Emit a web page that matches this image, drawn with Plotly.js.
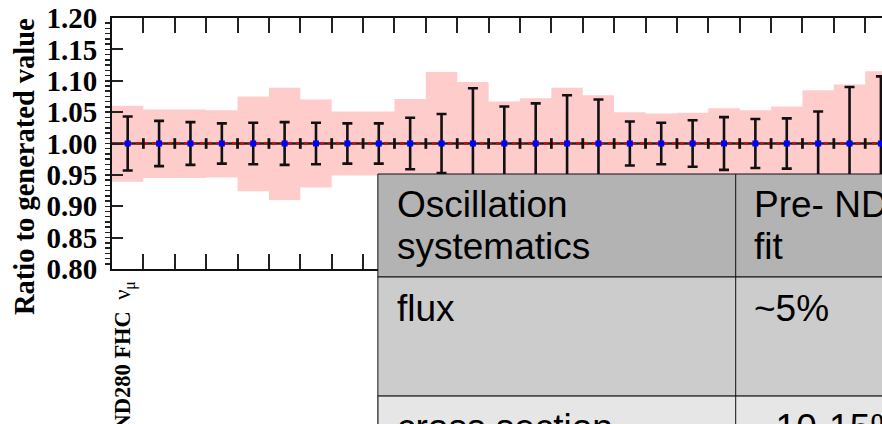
<!DOCTYPE html>
<html>
<head>
<meta charset="utf-8">
<script src="https://cdn.plot.ly/plotly-3.0.1.min.js"></script>
<style>
html,body{margin:0;padding:0;overflow:hidden;background:#fff;width:882px;height:424px;}
#chart{width:940px;height:424px;}
</style>
</head>
<body>
<div id="chart"></div>
<script>
// ---- data ----
const bins = [1,2,3,4,5,6,7,8,9,10,11,12,13,14,15,16,17,18,19,20,21,22,23,24,25];
const ratio = [1,1,1,1,1,1,1,1,1,1,1,1,1,1,1,1,1,1,1,1,1,1,1,1,1];
const ratioErr = [0.043,0.036,0.034,0.032,0.033,0.034,0.033,0.032,0.032,0.041,0.047,0.088,0.059,0.064,0.077,0.070,0.035,0.033,0.037,0.042,0.039,0.040,0.051,0.090,0.107];
const bandUpper = [1.060,1.054,1.054,1.053,1.075,1.089,1.070,1.051,1.051,1.071,1.114,1.098,1.067,1.072,1.089,1.077,1.050,1.048,1.049,1.056,1.053,1.059,1.085,1.094,1.115];
const bandLower = [0.939,0.945,0.945,0.946,0.924,0.910,0.930,0.949,0.949,0.929,0.886,0.902,0.933,0.928,0.911,0.923,0.948,0.948,0.948,0.944,0.947,0.941,0.915,0.906,0.885];
const edgeX = [1.5,2.5,3.5,4.5,5.5,6.5,7.5,8.5,9.5,10.5,11.5,12.5,13.5,14.5,15.5,16.5,17.5,18.5,19.5,20.5,21.5,22.5,23.5,24.5];
const edgeVal = [1,1,1,1,1,1,1,1,1,1,1,1,1,1,1,1,1,1,1,1,1,1,1,1];
const edgeErr = 0.0085;
const yTitle = "Ratio to generated value";
const sampleLabel = "<b>ND280 FHC</b>  ν<sub>μ</sub>";
const tableHeader = [["Oscillation","systematics"],["Pre- ND","fit"]];
const tableRows = [["flux","~5%"],["cross section","~10-15%"]];

// step arrays built from the bin values
const stepX = bins.map(b => b - 0.5).concat([bins[bins.length-1] + 0.5]);
const stepU = bandUpper.concat([bandUpper[bandUpper.length-1]]);
const stepL = bandLower.concat([bandLower[bandLower.length-1]]);
const lineX = [0.5, 26.5];
const lineY = [ratio[0], ratio[0]];

// ---- geometry helpers (pixel -> paper) ----
const L = 112, T = 18, PW = 816.4, PH = 251, W = 940, H = 424;
const px = v => (v - L) / PW;
const py = v => (T + PH - v) / PH;

const traces = [
  {x: stepX, y: stepL, mode:'lines', line:{shape:'hv', width:0, color:'rgba(0,0,0,0)'}, hoverinfo:'skip', showlegend:false},
  {x: stepX, y: stepU, mode:'lines', line:{shape:'hv', width:0, color:'rgba(0,0,0,0)'}, fill:'tonexty', fillcolor:'#ffcccc', hoverinfo:'skip', showlegend:false},
  {x: lineX, y: lineY, mode:'lines', line:{color:'#222', width:2.5}, showlegend:false},
  {x: lineX, y: lineY, mode:'lines', line:{color:'#e00000', width:2, dash:'4px,4px'}, showlegend:false},
  {x: edgeX, y: edgeVal, mode:'markers', marker:{size:1, color:'rgba(0,0,0,0)'},
   error_y:{type:'constant', value:edgeErr, color:'#111', thickness:2.8, width:0}, showlegend:false},
  {x: bins, y: ratio, mode:'markers', marker:{symbol:'square', size:6, color:'#0000ff'},
   error_y:{type:'data', array:ratioErr, color:'#111', thickness:2.6, width:5}, showlegend:false}
];

const shapes = [
  {type:'rect', xref:'paper', yref:'paper', x0:px(378), x1:px(1000), y0:py(174), y1:py(277), fillcolor:'#b3b3b3', line:{color:'#111', width:1}, layer:'above'},
  {type:'rect', xref:'paper', yref:'paper', x0:px(378), x1:px(1000), y0:py(277), y1:py(396), fillcolor:'#cccccc', line:{color:'#111', width:1}, layer:'above'},
  {type:'rect', xref:'paper', yref:'paper', x0:px(378), x1:px(1000), y0:py(396), y1:py(520), fillcolor:'#e6e6e6', line:{color:'#444', width:1.5}, layer:'above'},
  {type:'line', xref:'paper', yref:'paper', x0:px(736), x1:px(736), y0:py(174), y1:py(520), line:{color:'#111', width:1}, layer:'above'}
];

const tf = {family:'"Liberation Sans", Arial, sans-serif', size:37, color:'#000'};
function cell(text, xpix, baseline){
  return {text:text, xref:'paper', yref:'paper', x:px(xpix), y:py(baseline - 12.8),
          xanchor:'left', yanchor:'middle', showarrow:false, font:tf, borderpad:0};
}
const annotations = [
  {text:'<b>'+yTitle+'</b>', xref:'paper', yref:'paper', x:px(25), y:py(167), textangle:-90,
   xanchor:'center', yanchor:'middle', showarrow:false,
   font:{family:'"Liberation Serif", "Times New Roman", serif', size:28.5, color:'#000'}},
  {text:sampleLabel, xref:'paper', yref:'paper', x:px(125), y:py(279), textangle:-90,
   xanchor:'center', yanchor:'top', showarrow:false,
   font:{family:'"Liberation Serif", "Times New Roman", serif', size:22.5, color:'#000'}},
  cell(tableHeader[0][0], 396, 217), cell(tableHeader[0][1], 396, 259),
  cell(tableHeader[1][0], 753, 217), cell(tableHeader[1][1], 753, 259),
  cell(tableRows[0][0], 396, 321), cell(tableRows[0][1], 753, 321),
  cell(tableRows[1][0], 396, 440), cell(tableRows[1][1], 753, 440)
];

const layout = {
  width: W, height: H,
  margin:{l:L, r:W-L-PW, t:T, b:H-T-PH, pad:0},
  paper_bgcolor:'#fff', plot_bgcolor:'#fff',
  showlegend:false,
  xaxis:{range:[0.5,26.5], tick0:0.5, dtick:1, ticks:'inside', ticklen:15, tickwidth:2, tickcolor:'#222',
         showticklabels:false, showgrid:false, zeroline:false, showline:true, linecolor:'#111', linewidth:2, mirror:'ticks'},
  yaxis:{range:[0.8,1.2], tick0:0.8, dtick:0.05, tickformat:'.2f', ticks:'inside', ticklen:11, tickwidth:2, tickcolor:'#222',
         minor:{dtick:0.05/6, ticklen:5, tickwidth:1.5, tickcolor:'#222', showgrid:false},
         ticklabelstandoff:7,
         tickfont:{family:'"Liberation Serif", "Times New Roman", serif', size:29, color:'#000', weight:'bold'},
         showgrid:false, zeroline:false, showline:true, linecolor:'#111', linewidth:2, mirror:'ticks'},
  shapes: shapes,
  annotations: annotations
};

Plotly.newPlot('chart', traces, layout, {displayModeBar:false, staticPlot:true});
</script>
</body>
</html>
